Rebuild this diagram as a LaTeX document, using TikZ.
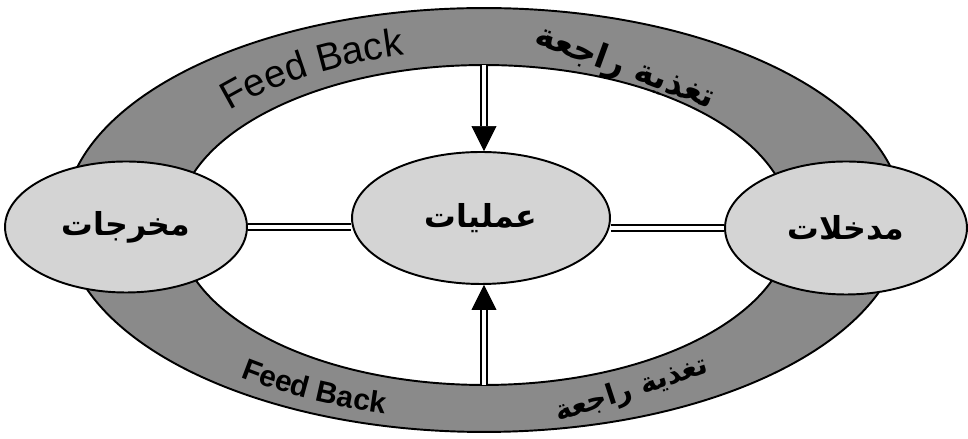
\documentclass[tikz,border=0pt]{standalone}
\usepackage{fontspec}
\setmainfont{Liberation Sans}
\newfontfamily\arabicfont[Script=Arabic]{DejaVu Sans}
\TeXXeTstate=1
\usetikzlibrary{
  arrows.meta,
  positioning,
  shapes.geometric,
  decorations.text,
  calc
}
\definecolor{ringgray}{HTML}{8A8A8A}
\definecolor{blobgray}{HTML}{D4D4D4}

\newcommand{\artext}[1]{\arabicfont\bfseries\beginR #1\endR}

\begin{document}
\begin{tikzpicture}[
  x=0.02cm, y=0.02cm,
  blob/.style={ellipse, draw, line width=1.1pt, fill=blobgray, inner sep=0pt,
    minimum width=4.84cm, minimum height=2.62cm, font=\fontsize{18}{20}\selectfont},
  ring/.style={draw, line width=1.1pt, fill=ringgray, even odd rule},
  dbl/.style={double, double distance=2.4pt, line width=0.8pt},
  headtip/.style={line width=0.4pt, -{Triangle[length=0.5cm, width=0.5cm]}},
  artop/.style={font=\fontsize{19}{22}\selectfont}
]
  \useasboundingbox (0,0) rectangle (968,439);

  % feedback ring
  \path[ring] (484,219) ellipse [x radius=8.4cm, y radius=4.24cm]
              (484,214) ellipse [x radius=6.14cm, y radius=3.2cm];
  \coordinate (fbc) at (484,216);
  \coordinate (fbtop) at (484,374);
  \coordinate (fbbot) at (484,54);

  \path[decorate, decoration={text along path, text align=center,
      text={|\fontsize{22}{25}\selectfont|Feed Back}}]
    (fbc) ++(165:6.7cm and 3.46cm)
    arc [start angle=165, end angle=87, x radius=6.7cm, y radius=3.46cm];
  \path[decorate, decoration={text along path, text align=center,
      text={|\fontsize{17}{20}\selectfont\bfseries|Feed Back}}]
    (484,217) ++(200:7.84cm and 3.96cm)
    arc [start angle=200, end angle=278, x radius=7.84cm, y radius=3.96cm];

  \node[artop, rotate=-20] (fbartop) at (625,371) {\artext{تغذية راجعة}};
  \node[font=\fontsize{16}{19}\selectfont, rotate=18] (fbarbot) at (632,49)
    {\artext{تغذية راجعة}};

  % the three stages
  \node[blob] (outp) at (126,212) {\artext{مخرجات}};
  \node[blob, minimum width=5.16cm, minimum height=2.64cm] (proc) at (481,221)
    {\artext{عمليات}};
  \node[blob, minimum height=2.66cm] (inp) at (846,211) {\artext{مدخلات}};

  \draw[headtip] (fbtop) -- (fbtop |- proc.north);
  \draw[dbl, shorten >=0.5cm] (fbtop) -- (fbtop |- proc.north);
  \draw[headtip] (fbbot) -- (fbbot |- proc.south);
  \draw[dbl, shorten >=0.5cm] (fbbot) -- (fbbot |- proc.south);

  \draw[dbl] (outp.east) -- (outp.east -| proc.west);
  \draw[dbl] (inp.west) -- (inp.west -| proc.east);
\end{tikzpicture}
\end{document}
